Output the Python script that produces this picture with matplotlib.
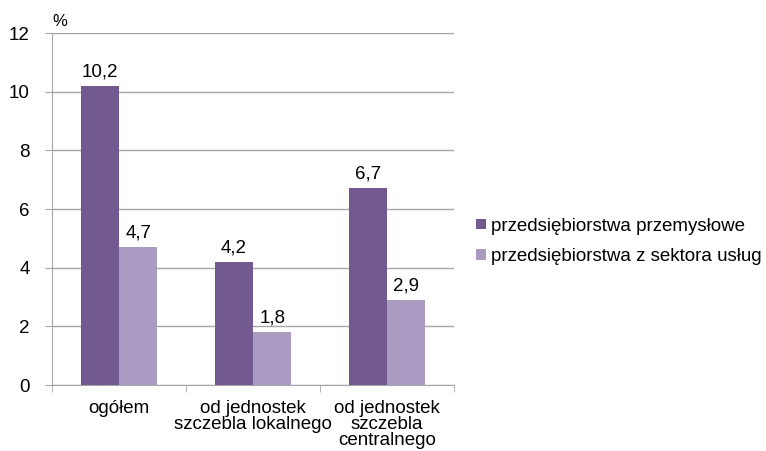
import matplotlib
matplotlib.use('Agg')
import matplotlib.pyplot as plt
import numpy as np

plt.rcParams['font.family'] = ['Liberation Sans', 'DejaVu Sans']

categories = ['ogółem', 'od jednostek\nszczebla lokalnego', 'od jednostek\nszczebla\ncentralnego']
series_names = ['przedsiębiorstwa przemysłowe', 'przedsiębiorstwa z sektora usług']
industry = [10.2, 4.2, 6.7]
services = [4.7, 1.8, 2.9]
yticks = [0, 2, 4, 6, 8, 10, 12]

dark = '#72598f'
light = '#a99bc1'
grid = '#a6a6a6'
fs = 13.5

fig = plt.figure(figsize=(7.66, 4.51), dpi=100)
ax = fig.add_axes([0.0679, 0.1463, 0.5248, 0.7805])

x = np.arange(len(categories))
w = 0.287
b1 = ax.bar(x - w / 2, industry, w, color=dark, label=series_names[0], zorder=3)
b2 = ax.bar(x + w / 2, services, w, color=light, label=series_names[1], zorder=3)

for bars, vals in ((b1, industry), (b2, services)):
    for r, v in zip(bars, vals):
        ax.annotate(('%.1f' % v).replace('.', ','),
                    (r.get_x() + r.get_width() / 2, v),
                    xytext=(0, 4), textcoords='offset points',
                    ha='center', va='bottom', fontsize=fs)

ax.set_xlim(-0.5, len(categories) - 0.5)
ax.set_ylim(0, 12)
ax.set_yticks(yticks)
ax.set_yticklabels([str(t) for t in yticks], fontsize=fs)
ax.yaxis.grid(True, color=grid, linewidth=1, zorder=0)
ax.tick_params(axis='y', length=5, color=grid, pad=11)

ax.set_xticks(x)
ax.set_xticklabels(categories, fontsize=fs, linespacing=0.9)
ax.tick_params(axis='x', length=0, pad=11)
ax.set_xticks(np.arange(-0.5, len(categories)), minor=True)
ax.tick_params(axis='x', which='minor', length=5, color=grid)

for s in ('top', 'right'):
    ax.spines[s].set_visible(False)
ax.spines['left'].set_color(grid)
ax.spines['bottom'].set_color(grid)

ax.text(0.0, 1.01, '%', transform=ax.transAxes, fontsize=12, ha='left', va='bottom')

fig.legend(handles=[b1, b2], loc='center left', bbox_to_anchor=(0.600, 0.465),
           frameon=False, fontsize=fs, handlelength=0.5, handleheight=0.5,
           handletextpad=0.3, labelspacing=0.7)

fig.savefig('out.png', dpi=100)
